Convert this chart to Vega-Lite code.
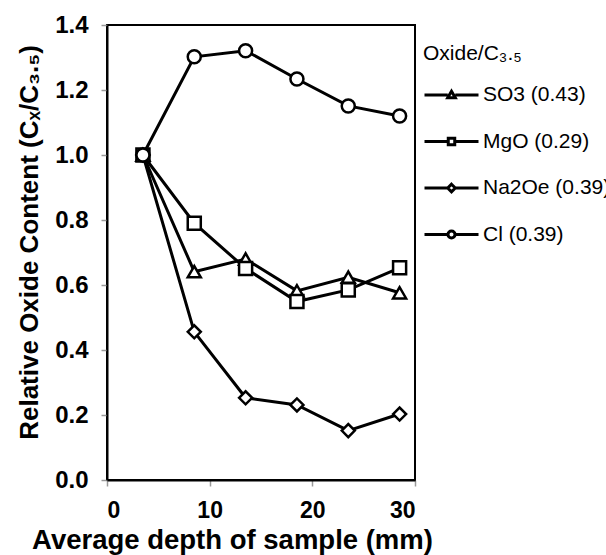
{
  "$schema": "https://vega.github.io/schema/vega-lite/v6.json",
  "width": 308,
  "height": 455,
  "autosize": {"type": "none"},
  "padding": {"left": 107, "top": 25, "right": 191, "bottom": 75},
  "background": "white",
  "config": {
    "view": {"stroke": "black", "strokeWidth": 2},
    "font": "Liberation Sans",
    "axis": {
      "labelFont": "Liberation Sans",
      "labelFontWeight": "bold",
      "labelColor": "black",
      "titleFont": "Liberation Sans",
      "titleFontWeight": "bold",
      "titleColor": "black",
      "domainColor": "black",
      "domainWidth": 2,
      "tickColor": "#999999",
      "tickWidth": 1.5,
      "tickSize": 6,
      "grid": false
    }
  },
  "data": {
    "values": [
      {"depth": 3.5, "value": 1.0, "oxide": "SO3 (0.43)"},
      {"depth": 8.5, "value": 0.641, "oxide": "SO3 (0.43)"},
      {"depth": 13.5, "value": 0.68, "oxide": "SO3 (0.43)"},
      {"depth": 18.5, "value": 0.582, "oxide": "SO3 (0.43)"},
      {"depth": 23.5, "value": 0.624, "oxide": "SO3 (0.43)"},
      {"depth": 28.5, "value": 0.576, "oxide": "SO3 (0.43)"},
      {"depth": 3.5, "value": 1.0, "oxide": "MgO (0.29)"},
      {"depth": 8.5, "value": 0.79, "oxide": "MgO (0.29)"},
      {"depth": 13.5, "value": 0.651, "oxide": "MgO (0.29)"},
      {"depth": 18.5, "value": 0.549, "oxide": "MgO (0.29)"},
      {"depth": 23.5, "value": 0.585, "oxide": "MgO (0.29)"},
      {"depth": 28.5, "value": 0.653, "oxide": "MgO (0.29)"},
      {"depth": 3.5, "value": 1.0, "oxide": "Na2Oe (0.39)"},
      {"depth": 8.5, "value": 0.456, "oxide": "Na2Oe (0.39)"},
      {"depth": 13.5, "value": 0.253, "oxide": "Na2Oe (0.39)"},
      {"depth": 18.5, "value": 0.231, "oxide": "Na2Oe (0.39)"},
      {"depth": 23.5, "value": 0.152, "oxide": "Na2Oe (0.39)"},
      {"depth": 28.5, "value": 0.203, "oxide": "Na2Oe (0.39)"},
      {"depth": 3.5, "value": 1.0, "oxide": "Cl (0.39)"},
      {"depth": 8.5, "value": 1.302, "oxide": "Cl (0.39)"},
      {"depth": 13.5, "value": 1.321, "oxide": "Cl (0.39)"},
      {"depth": 18.5, "value": 1.234, "oxide": "Cl (0.39)"},
      {"depth": 23.5, "value": 1.151, "oxide": "Cl (0.39)"},
      {"depth": 28.5, "value": 1.12, "oxide": "Cl (0.39)"}
    ]
  },
  "encoding": {
    "x": {
      "field": "depth", "type": "quantitative",
      "scale": {"domain": [0, 30], "nice": false},
      "axis": {"values": [0, 10, 20, 30], "title": "Average depth of sample (mm)", "titleFontSize": 27.5, "titlePadding": 4, "labelPadding": 13, "labelFontSize": 23, "labelFontWeight": "bold", "titleX": 125}
    },
    "y": {
      "field": "value", "type": "quantitative",
      "scale": {"domain": [0, 1.4], "nice": false},
      "axis": {"values": [0, 0.2, 0.4, 0.6, 0.8, 1.0, 1.2, 1.4], "format": ".1f", "title": "Relative Oxide Content (Cₓ/C₃.₅)", "titleFontSize": 26, "titlePadding": 12, "labelPadding": 13, "labelFontSize": 24, "labelFontWeight": "bold", "titleY": 217}
    }
  },
  "layer": [
    {
      "mark": {"type": "line", "strokeWidth": 3, "color": "black"},
      "encoding": {
        "color": {
          "field": "oxide", "type": "nominal",
          "sort": ["SO3 (0.43)", "MgO (0.29)", "Na2Oe (0.39)", "Cl (0.39)"],
          "scale": {"range": ["black", "black", "black", "black"]},
          "legend": {
            "orient": "none", "legendX": 316, "legendY": 18,
            "title": "\u00a0\u00a0\u00a0Oxide/C₃.₅",
            "titleFont": "Liberation Sans", "titleFontSize": 21, "titleFontWeight": "normal", "titleColor": "black",
            "titlePadding": 16,
            "symbolType": "stroke", "symbolSize": 2916, "symbolStrokeWidth": 3, "symbolStrokeColor": "black",
            "labelFont": "Liberation Sans", "labelFontSize": 21, "labelColor": "black", "labelOffset": 3,
            "clipHeight": 30, "rowPadding": 16.5,
            "encode": {
              "symbols": {
                "update": {
                  "shape": {"signal": "datum.label === 'SO3 (0.43)' ? 'M-1,0H-0.14M0.14,0H1M0,-0.14L0.14,0.1L-0.14,0.1Z' : datum.label === 'MgO (0.29)' ? 'M-1,0H-0.12M0.12,0H1M-0.12,-0.12H0.12V0.12H-0.12Z' : datum.label === 'Na2Oe (0.39)' ? 'M-1,0H-0.14M0.14,0H1M0,-0.14L0.14,0L0,0.14L-0.14,0Z' : 'M-1,0H-0.13M0.13,0H1M0.13,0A0.13,0.13,0,1,1,-0.13,0A0.13,0.13,0,1,1,0.13,0Z'"},
                  "fill": {"value": "white"},
                  "stroke": {"value": "black"},
                  "strokeWidth": {"value": 3},
                  "opacity": {"value": 1}
                }
              }
            }
          }
        }
      }
    },
    {
      "mark": {"type": "point", "filled": false, "fill": "white", "stroke": "black", "color": "black", "strokeWidth": 2.5, "size": 170, "opacity": 1},
      "encoding": {
        "shape": {
          "field": "oxide", "type": "nominal",
          "scale": {"domain": ["SO3 (0.43)", "MgO (0.29)", "Na2Oe (0.39)", "Cl (0.39)"], "range": ["triangle-up", "square", "diamond", "circle"]},
          "legend": null
        }
      }
    }
  ]
}
